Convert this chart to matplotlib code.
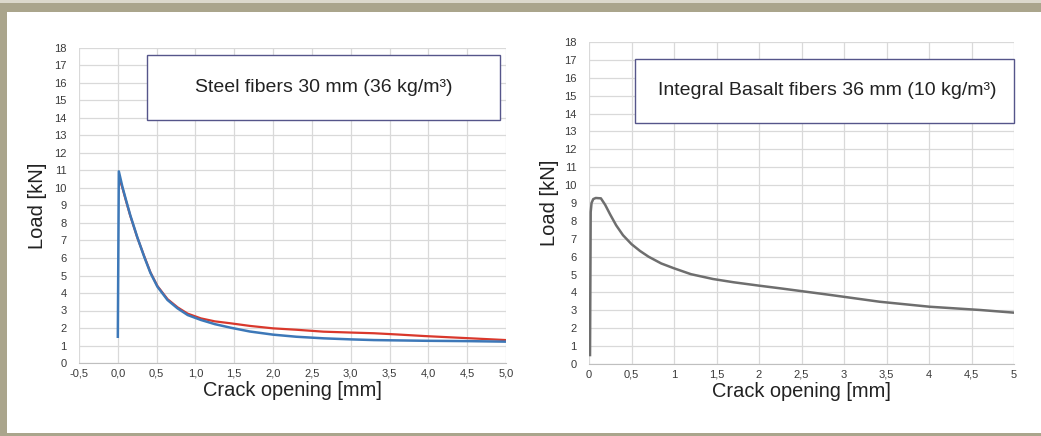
import matplotlib.pyplot as plt
from matplotlib.patches import Rectangle

plt.rcParams['font.family'] = ['Liberation Sans', 'DejaVu Sans']

# Steel fibers 30 mm: two specimens (blue, red)
steel_x_blue = [0.0, 0.013, 0.06, 0.1, 0.16, 0.25, 0.34, 0.42, 0.51, 0.64, 0.77, 0.9,
                1.07, 1.25, 1.45, 1.7, 2.0, 2.3, 2.65, 3.0, 3.3, 3.95, 4.5, 5.0]
steel_y_blue = [1.5, 10.95, 10.05, 9.4, 8.45, 7.2, 6.07, 5.15, 4.36, 3.6, 3.12, 2.74,
                2.46, 2.22, 2.02, 1.8, 1.62, 1.5, 1.41, 1.35, 1.31, 1.27, 1.25, 1.22]
steel_x_red = [0.03, 0.06, 0.1, 0.16, 0.25, 0.34, 0.42, 0.51, 0.64, 0.77, 0.9,
               1.07, 1.25, 1.45, 1.7, 2.0, 2.3, 2.65, 3.0, 3.3, 3.6, 3.95, 4.5, 5.0]
steel_y_red = [10.4, 10.0, 9.35, 8.42, 7.18, 6.1, 5.18, 4.4, 3.65, 3.18, 2.82,
               2.55, 2.38, 2.27, 2.12, 1.98, 1.9, 1.79, 1.74, 1.7, 1.63, 1.54, 1.42, 1.31]

# Integral basalt fibers 36 mm
basalt_x = [0.012, 0.02, 0.03, 0.05, 0.08, 0.14, 0.19, 0.25, 0.32, 0.40, 0.5, 0.6,
            0.7, 0.85, 1.0, 1.2, 1.46, 1.7, 2.0, 2.25, 2.84, 3.42, 4.01, 4.6, 5.0]
basalt_y = [0.5, 8.5, 9.0, 9.22, 9.28, 9.26, 8.9, 8.35, 7.75, 7.2, 6.7, 6.32,
            6.0, 5.62, 5.35, 5.02, 4.75, 4.57, 4.38, 4.23, 3.86, 3.48, 3.2, 3.02, 2.87]

steel_xticks = [-0.5, 0.0, 0.5, 1.0, 1.5, 2.0, 2.5, 3.0, 3.5, 4.0, 4.5, 5.0]
steel_xlabels = ['-0,5', '0,0', '0,5', '1,0', '1,5', '2,0', '2,5', '3,0', '3,5', '4,0', '4,5', '5,0']
basalt_xticks = [0, 0.5, 1, 1.5, 2, 2.5, 3, 3.5, 4, 4.5, 5]
basalt_xlabels = ['0', '0,5', '1', '1,5', '2', '2,5', '3', '3,5', '4', '4,5', '5']
yticks = list(range(0, 19))

W, H = 1041, 436
fig = plt.figure(figsize=(W / 100, H / 100), dpi=100)
fig.patch.set_facecolor('#aaa58c')
fig.add_artist(Rectangle((0, 1 - 3 / H), 1, 3 / H, transform=fig.transFigure,
                         facecolor='#dcd9cc', edgecolor='none', zorder=-2))
fig.add_artist(Rectangle((7 / W, 3 / H), 1 - 7 / W, (H - 15) / H, transform=fig.transFigure,
                         facecolor='white', edgecolor='none', zorder=-2))


def style_axes(ax, xlim, xticks, xlabels):
    ax.set_xlim(*xlim)
    ax.set_ylim(0, 18)
    ax.set_xticks(xticks)
    ax.set_xticklabels(xlabels)
    ax.set_yticks(yticks)
    ax.grid(True, color='#d9d9d9', linewidth=0.9)
    ax.set_axisbelow(True)
    ax.patch.set_alpha(0)
    for s in ['top', 'right', 'left']:
        ax.spines[s].set_visible(False)
    ax.spines['bottom'].set_color('#bfbfbf')
    ax.tick_params(length=0, labelsize=8, labelcolor='#3a3a3a')
    ax.tick_params(axis='y', pad=9)
    ax.tick_params(axis='x', pad=4)
    ax.set_xlabel('Crack opening [mm]', fontsize=14.4, color='#222222', labelpad=2)


def px_axes(x0, x1, y0, y1):
    return fig.add_axes([x0 / W, 1 - y1 / H, (x1 - x0) / W, (y1 - y0) / H])


# left chart
ax1 = px_axes(79, 506, 48, 363)
ax1.plot(steel_x_red, steel_y_red, color='#d9382c', linewidth=1.6, solid_joinstyle='round')
ax1.plot(steel_x_blue, steel_y_blue, color='#3d78b8', linewidth=1.8, solid_joinstyle='round')
style_axes(ax1, (-0.5, 5.0), steel_xticks, steel_xlabels)
ax1.set_ylabel('Load [kN]', fontsize=14.5, color='#222222')
ax1.yaxis.set_label_coords(-0.075, 0.5)
ax1.add_patch(Rectangle((0.376, 13.9), 4.55, 3.7, facecolor='white',
                        edgecolor='#55558a', linewidth=1.0, zorder=3))
ax1.text(2.65, 15.75, 'Steel fibers 30 mm (36 kg/m³)', ha='center', va='center',
         fontsize=14, color='#222222', zorder=4)

# right chart
ax2 = px_axes(589, 1014, 42, 364)
ax2.plot(basalt_x, basalt_y, color='#6e6e6e', linewidth=1.8, solid_joinstyle='round')
style_axes(ax2, (0, 5), basalt_xticks, basalt_xlabels)
ax2.set_ylabel('Load [kN]', fontsize=14.5, color='#222222')
ax2.yaxis.set_label_coords(-0.07, 0.5)
ax2.add_patch(Rectangle((0.54, 13.5), 4.46, 3.55, facecolor='white',
                        edgecolor='#55558a', linewidth=1.0, zorder=3, clip_on=False))
ax2.text(2.8, 15.3, 'Integral Basalt fibers 36 mm (10 kg/m³)', ha='center', va='center',
         fontsize=14, color='#222222', zorder=4)

fig.savefig('out.png', dpi=100)
